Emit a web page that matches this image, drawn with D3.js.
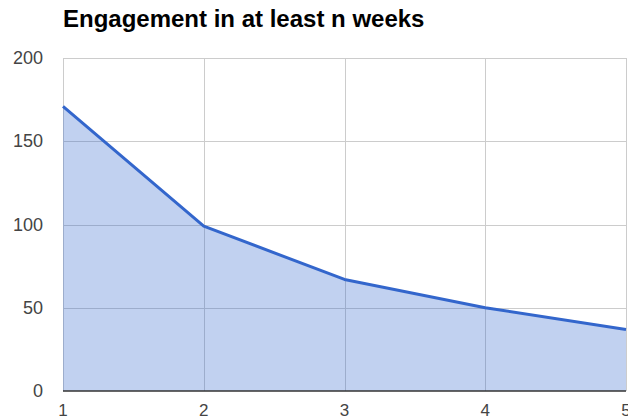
<!DOCTYPE html>
<html>
<head>
<meta charset="utf-8">
<script src="https://cdn.jsdelivr.net/npm/d3@7"></script>
<style>
  body { margin: 0; background: #fff; }
  svg { display: block; font-family: Arial, "Liberation Sans", sans-serif; }
</style>
</head>
<body>
<div id="chart"></div>
<script>
const weeks = [1, 2, 3, 4, 5];
const engaged = [171, 99, 67, 50, 37];
const yTicks = [0, 50, 100, 150, 200];

const width = 628, height = 418;
const margin = { top: 58, right: 2, bottom: 27, left: 63 };

const svg = d3.select('#chart').append('svg')
    .attr('width', width)
    .attr('height', height);

const x = d3.scaleLinear().domain([1, 5]).range([margin.left, width - margin.right]);
const y = d3.scaleLinear().domain([0, 200]).range([height - margin.bottom, margin.top]);

svg.append('text')
    .attr('x', 63)
    .attr('y', 27)
    .attr('font-size', 24)
    .attr('font-weight', 'bold')
    .attr('fill', '#000')
    .text('Engagement in at least n weeks');

// gridlines
const grid = svg.append('g').attr('stroke', '#ccc').attr('stroke-width', 1);
grid.selectAll('.hg')
    .data(yTicks.filter(d => d > 0))
    .join('line')
    .attr('x1', margin.left)
    .attr('x2', width - margin.right)
    .attr('y1', d => Math.round(y(d)) + 0.5)
    .attr('y2', d => Math.round(y(d)) + 0.5);
grid.selectAll('.vg')
    .data(weeks)
    .join('line')
    .attr('x1', d => Math.round(x(d)) + 0.5)
    .attr('x2', d => Math.round(x(d)) + 0.5)
    .attr('y1', y(200))
    .attr('y2', y(0));

const data = weeks.map((w, i) => ({ w, v: engaged[i] }));

svg.append('path')
    .datum(data)
    .attr('fill', '#3366cc')
    .attr('fill-opacity', 0.3)
    .attr('d', d3.area().x(d => x(d.w)).y0(y(0)).y1(d => y(d.v)));

svg.append('path')
    .datum(data)
    .attr('fill', 'none')
    .attr('stroke', '#3366cc')
    .attr('stroke-width', 3)
    .attr('stroke-linejoin', 'round')
    .attr('d', d3.line().x(d => x(d.w)).y(d => y(d.v)));

// baseline
svg.append('line')
    .attr('x1', margin.left)
    .attr('x2', width - margin.right)
    .attr('y1', y(0))
    .attr('y2', y(0))
    .attr('stroke', '#333')
    .attr('stroke-width', 1.5);

// y labels
svg.append('g').selectAll('text')
    .data(yTicks)
    .join('text')
    .attr('x', 43)
    .attr('y', d => y(d) + 6)
    .attr('text-anchor', 'end')
    .attr('font-size', 18)
    .attr('fill', '#444')
    .text(d => d);

// x labels
svg.append('g').selectAll('text')
    .data(weeks)
    .join('text')
    .attr('x', d => x(d))
    .attr('y', 416)
    .attr('text-anchor', 'middle')
    .attr('font-size', 17)
    .attr('fill', '#444')
    .text(d => d);
</script>
</body>
</html>
